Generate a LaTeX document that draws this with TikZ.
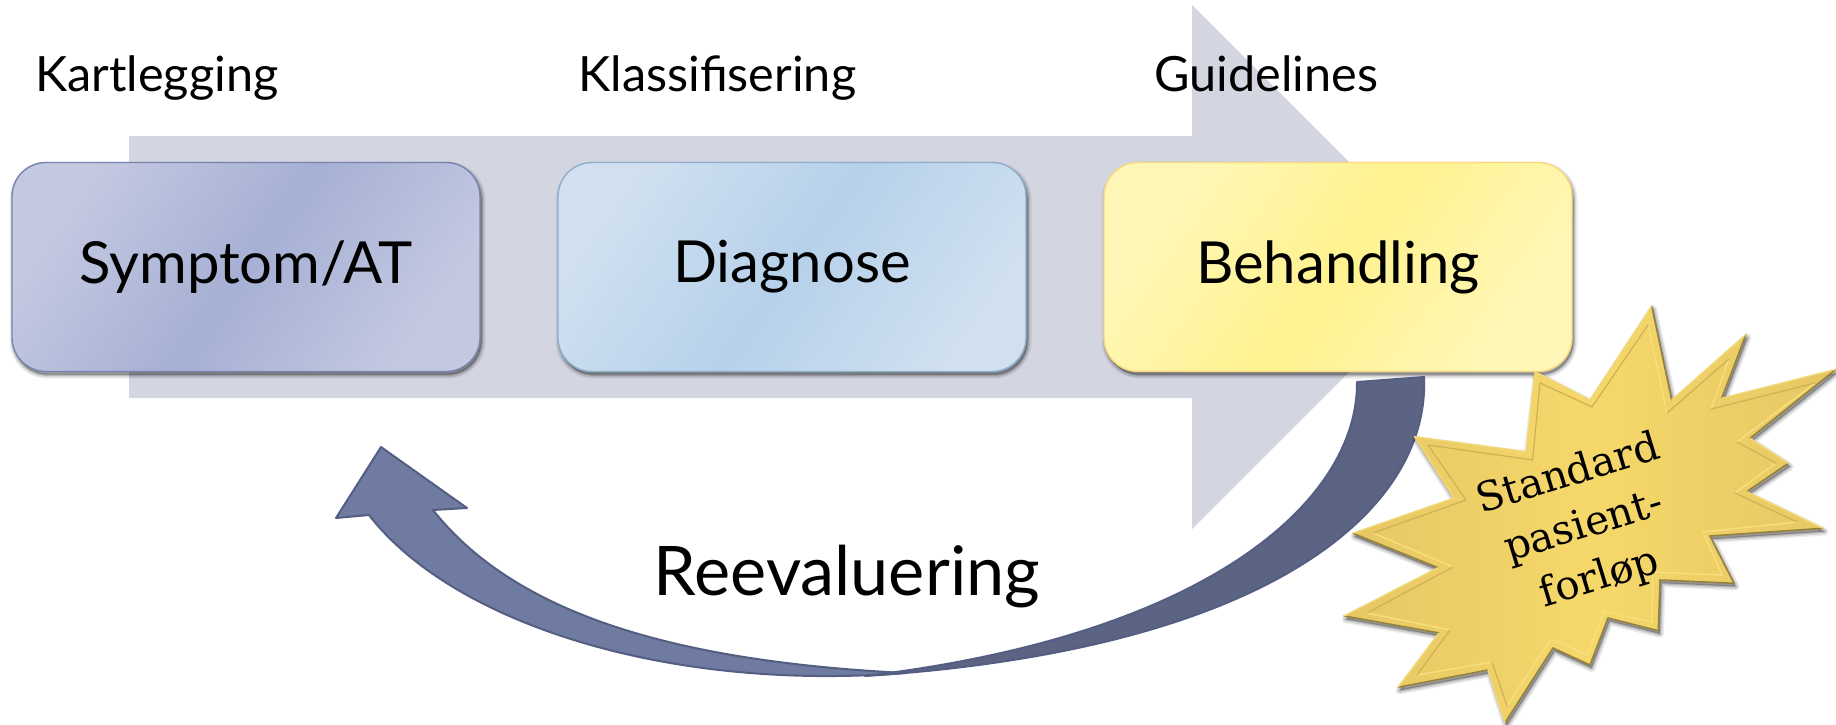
\documentclass[tikz,border=0pt]{standalone}
\usepackage{fontspec}
\setmainfont{Lato}
\newfontfamily\starfont{DejaVu Serif}
\definecolor{bigarrow}{HTML}{D3D6E1}
\definecolor{arrowfront}{HTML}{707BA2}
\definecolor{arrowback}{HTML}{5B6483}
\definecolor{arrowedge}{HTML}{545E82}
\definecolor{starlight}{HTML}{F6E07C}
\definecolor{stardark}{HTML}{94803F}
\definecolor{starmid}{HTML}{CDB155}
\definecolor{starside}{HTML}{E6C663}
\definecolor{starcentre}{HTML}{F6D86A}
\definecolor{boxaE}{HTML}{7884B0}
\definecolor{boxaL}{HTML}{C4C9E1}
\definecolor{boxaM}{HTML}{A6B0D4}
\definecolor{boxbE}{HTML}{8FB0CC}
\definecolor{boxbL}{HTML}{D0E0F0}
\definecolor{boxbM}{HTML}{B6D1EA}
\definecolor{boxcE}{HTML}{FBD97C}
\definecolor{boxcL}{HTML}{FFF7B8}
\definecolor{boxcM}{HTML}{FFF28F}
\begin{document}
\begin{tikzpicture}[x=0.5pt,y=-0.5pt,
  softshadow/.style={
    preaction={draw=#1,fill=#1,opacity=.07,line width=4pt,line join=round,transform canvas={xshift=.8pt,yshift=-1.6pt}},
    preaction={draw=#1,fill=#1,opacity=.10,line width=2.6pt,line join=round,transform canvas={xshift=.8pt,yshift=-1.6pt}},
    preaction={draw=#1,fill=#1,opacity=.14,line width=1.2pt,line join=round,transform canvas={xshift=.8pt,yshift=-1.6pt}}},
  box/.style={rounded corners=17pt,minimum width=234pt,minimum height=104.5pt,line width=.7pt,softshadow=black,inner sep=0pt,font=\fontsize{29}{35}\selectfont},
  toplabel/.style={anchor=base west,inner sep=0pt,font=\fontsize{24.3}{28}\selectfont},
  frontface/.style={fill=arrowfront,draw=arrowedge,line width=1pt,line join=round},
  backface/.style={fill=arrowback,draw=arrowedge,line width=1pt,line join=round}]
\useasboundingbox (0,0) rectangle (1836,724);
% big background arrow
\fill[bigarrow] (129,136) -- (1192,136) -- (1192,5) -- (1454,267) -- (1192,529) -- (1192,398) -- (129,398) -- cycle;
% labels
\node[toplabel] (kart) at (35,91) {Kartlegging};
\node[toplabel] (klas) at (578,91) {Klassifisering};
\node[toplabel] (guid) at (1154,91) {Guidelines};
% boxes
\node[box,draw=boxaE,left color=boxaL,right color=boxaL,middle color=boxaM,shading angle=55] (symptom) at (246,267) {Symptom/AT};
\node[box,draw=boxbE,left color=boxbL,right color=boxbL,middle color=boxbM,shading angle=55] (diagnose) at (792,267) {Diagnose};
\node[box,draw=boxcE,left color=boxcL,right color=boxcL,middle color=boxcM,shading angle=55] (behandling) at (1338,267) {Behandling};
% reevaluation arrow
\path[frontface] (905,673) .. controls (660,692) and (450,620) .. (369,515) -- (336,518) -- (381,447) -- (467,508) -- (433,510)
  .. controls (520,620) and (690,662) .. (905,673) -- cycle;
\path[backface] (1424,377) -- (1357,382) .. controls (1358,500) and (1210,635) .. (865,676)
  .. controls (1270,650) and (1430,510) .. (1424,377) -- cycle;
\node[inner sep=0pt,anchor=base,font=\fontsize{34.2}{40}\selectfont] (reev) at (847,595) {Reevaluering};
% star
\coordinate (o1) at (1651.7,306); \coordinate (o2) at (1671.7,400);
\coordinate (o3) at (1746,334.3); \coordinate (o4) at (1721.7,398.3);
\coordinate (o5) at (1836,369.3); \coordinate (o6) at (1750,438.3);
\coordinate (o7) at (1788.3,463.3); \coordinate (o8) at (1746.7,491.7);
\coordinate (o9) at (1823,528.3); \coordinate (o10) at (1710,536);
\coordinate (o11) at (1734,583.3); \coordinate (o12) at (1660,580);
\coordinate (o13) at (1658.3,630.7); \coordinate (o14) at (1608,618);
\coordinate (o15) at (1590,665); \coordinate (o16) at (1553,648);
\coordinate (o17) at (1505,722.7); \coordinate (o18) at (1488,670);
\coordinate (o19) at (1398,687.3); \coordinate (o20) at (1439,633);
\coordinate (o21) at (1344,616); \coordinate (o22) at (1438,567.7);
\coordinate (o23) at (1352.7,533.3); \coordinate (o24) at (1454,498);
\coordinate (o25) at (1414.5,436.7); \coordinate (o26) at (1526,451.7);
\coordinate (o27) at (1535,371.7); \coordinate (o28) at (1590,400);
\coordinate (i1) at (1648,325); \coordinate (i2) at (1667,413);
\coordinate (i3) at (1729,359); \coordinate (i4) at (1711,409);
\coordinate (i5) at (1815,383); \coordinate (i6) at (1737,442);
\coordinate (i7) at (1776,463); \coordinate (i8) at (1735,493);
\coordinate (i9) at (1797,522); \coordinate (i10) at (1703,532);
\coordinate (i11) at (1722,575); \coordinate (i12) at (1653,572);
\coordinate (i13) at (1652,622); \coordinate (i14) at (1604,611);
\coordinate (i15) at (1588,655); \coordinate (i16) at (1551,639);
\coordinate (i17) at (1507,706); \coordinate (i18) at (1492,662);
\coordinate (i19) at (1417,675); \coordinate (i20) at (1450,630);
\coordinate (i21) at (1367,613); \coordinate (i22) at (1453,567);
\coordinate (i23) at (1373,533); \coordinate (i24) at (1466,500);
\coordinate (i25) at (1428,445); \coordinate (i26) at (1532.5,460);
\coordinate (i27) at (1540,383); \coordinate (i28) at (1592,407);
\path[softshadow=black,left color=starside,right color=starside,middle color=starcentre]
  (o1)--(o2)--(o3)--(o4)--(o5)--(o6)--(o7)--(o8)--(o9)--(o10)--(o11)--(o12)--(o13)--(o14)
  --(o15)--(o16)--(o17)--(o18)--(o19)--(o20)--(o21)--(o22)--(o23)--(o24)--(o25)--(o26)--(o27)--(o28)--cycle;
% bevel: inner outline and outer edges, two-toned as if lit from the upper left
\foreach \a/\b in {1/2,3/4,5/6,7/8,9/10,10/11,11/12,12/13,13/14,14/15,15/16,16/17,18/19,20/21,22/23}{
  \draw[stardark,line width=.8pt,line cap=round] (o\a)--(o\b);
  \draw[starlight,line width=.7pt,line cap=round] (i\a)--(i\b);
}
\foreach \a/\b in {2/3,4/5,6/7,8/9,17/18,19/20,21/22,23/24,24/25,25/26,26/27,27/28,28/1}{
  \draw[starlight!70!starside,line width=.7pt,line cap=round] (o\a)--(o\b);
  \draw[starmid,line width=.6pt,line cap=round] (i\a)--(i\b);
}
\node[rotate=17,align=center,inner sep=0pt,font=\starfont\fontsize{20.2}{27}\selectfont] (std) at (1584,527) {Standard\\pasient-\\forløp};
\end{tikzpicture}
\end{document}
